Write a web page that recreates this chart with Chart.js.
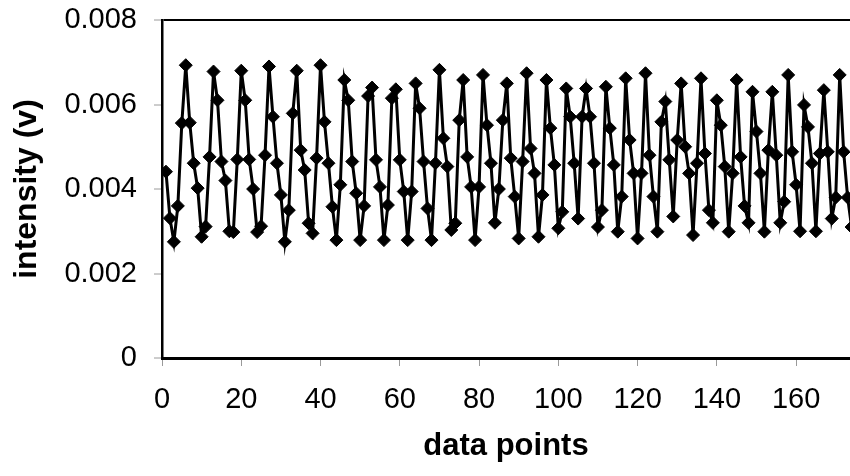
<!DOCTYPE html>
<html>
<head>
<meta charset="utf-8">
<script src="https://cdn.jsdelivr.net/npm/chart.js@4/dist/chart.umd.min.js"></script>
<style>
  html, body { margin: 0; padding: 0; background: #ffffff; }
  canvas { display: block; }
</style>
</head>
<body>
<canvas id="chart" width="850" height="476"></canvas>
<script>
// ---- data (x = data point number 1..174) ----
const intensity = [
  0.00441, 0.00331, 0.00275, 0.00360, 0.00556, 0.00693, 0.00557, 0.00461, 0.00402, 0.00287,
  0.00311, 0.00476, 0.00678, 0.00610, 0.00465, 0.00420, 0.00300, 0.00298, 0.00470, 0.00680,
  0.00610, 0.00470, 0.00400, 0.00298, 0.00312, 0.00480, 0.00690, 0.00571, 0.00461, 0.00386,
  0.00275, 0.00350, 0.00579, 0.00680, 0.00492, 0.00445, 0.00319, 0.00295, 0.00473, 0.00693,
  0.00559, 0.00461, 0.00358, 0.00279, 0.00410, 0.00658, 0.00610, 0.00465, 0.00390, 0.00279,
  0.00360, 0.00620, 0.00640, 0.00469, 0.00405, 0.00279, 0.00362, 0.00615, 0.00636, 0.00469,
  0.00394, 0.00279, 0.00394, 0.00650, 0.00591, 0.00465, 0.00354, 0.00279, 0.00461, 0.00682,
  0.00520, 0.00453, 0.00303, 0.00319, 0.00563, 0.00658, 0.00476, 0.00405, 0.00279, 0.00405,
  0.00670, 0.00551, 0.00461, 0.00320, 0.00400, 0.00563, 0.00650, 0.00473, 0.00382, 0.00283,
  0.00465, 0.00674, 0.00496, 0.00437, 0.00287, 0.00386, 0.00658, 0.00544, 0.00457, 0.00307,
  0.00346, 0.00638, 0.00571, 0.00461, 0.00330, 0.00571, 0.00638, 0.00571, 0.00461, 0.00310,
  0.00350, 0.00642, 0.00544, 0.00457, 0.00299, 0.00382, 0.00662, 0.00516, 0.00437, 0.00283,
  0.00437, 0.00674, 0.00480, 0.00382, 0.00299, 0.00559, 0.00607, 0.00469, 0.00335, 0.00516,
  0.00650, 0.00500, 0.00437, 0.00291, 0.00461, 0.00662, 0.00484, 0.00350, 0.00320, 0.00610,
  0.00551, 0.00453, 0.00299, 0.00437, 0.00658, 0.00476, 0.00360, 0.00320, 0.00630, 0.00536,
  0.00437, 0.00299, 0.00492, 0.00630, 0.00480, 0.00320, 0.00370, 0.00670, 0.00488, 0.00410,
  0.00300, 0.00599, 0.00547, 0.00461, 0.00300, 0.00484, 0.00634, 0.00488, 0.00330, 0.00380,
  0.00670, 0.00488, 0.00380, 0.00310
];
const firstPointNumber = 1;

const xTickValues = [0, 20, 40, 60, 80, 100, 120, 140, 160];
const yTickValues = [0, 0.002, 0.004, 0.006, 0.008];
const yTickLabels = ['0', '0.002', '0.004', '0.006', '0.008'];
const xAxisTitle = 'data points';
const yAxisTitle = 'intensity (v)';
const xMin = 0, xMax = 173.6;   // the reference is cut off at the right edge
const yMin = 0, yMax = 0.008;

// ---- build the chart ----
const points = intensity.map((v, i) => ({ x: firstPointNumber + i, y: v }));
const FONT = '"Liberation Sans", Arial, Helvetica, sans-serif';

new Chart(document.getElementById('chart'), {
  type: 'scatter',
  data: {
    datasets: [{
      data: points,
      showLine: true,
      borderColor: '#000000',
      borderWidth: 3,
      tension: 0,
      pointStyle: 'rectRot',
      pointRadius: 6.5,
      pointHoverRadius: 6.5,
      pointBackgroundColor: '#000000',
      pointBorderColor: '#000000',
      pointBorderWidth: 1
    }]
  },
  options: {
    responsive: false,
    devicePixelRatio: 1,
    animation: false,
    events: [],
    layout: { autoPadding: false, padding: { top: 20, right: 0, bottom: 0, left: 0 } },
    plugins: { legend: { display: false }, tooltip: { enabled: false } },
    scales: {
      x: {
        type: 'linear',
        min: xMin,
        max: xMax,
        afterFit: (s) => { s.height = 118; s.paddingLeft = 0; s.paddingRight = 0; },
        afterBuildTicks: (s) => { s.ticks = xTickValues.map(v => ({ value: v })); },
        ticks: {
          includeBounds: false,
          color: '#000000',
          font: { family: FONT, size: 29 },
          padding: 17,
          maxRotation: 0,
          autoSkip: false
        },
        grid: {
          drawOnChartArea: false,
          drawTicks: true,
          tickLength: 8,
          tickColor: '#9a9a9a',
          tickWidth: 1
        },
        border: { display: true, color: '#000000', width: 3 },
        title: {
          display: true,
          text: xAxisTitle,
          color: '#000000',
          font: { family: FONT, size: 31, weight: 'bold' },
          padding: { top: 0, bottom: 11 }
        }
      },
      y: {
        type: 'linear',
        min: yMin,
        max: yMax,
        afterFit: (s) => { s.width = 162; s.paddingTop = 0; s.paddingBottom = 0; },
        afterBuildTicks: (s) => { s.ticks = yTickValues.map(v => ({ value: v })); },
        ticks: {
          includeBounds: false,
          color: '#000000',
          font: { family: FONT, size: 29 },
          padding: 17,
          callback: (value) => {
            const k = yTickValues.findIndex(t => Math.abs(t - value) < 1e-9);
            return k >= 0 ? yTickLabels[k] : '';
          }
        },
        grid: {
          drawOnChartArea: true,
          drawTicks: true,
          tickLength: 8,
          tickColor: '#9a9a9a',
          tickWidth: 1,
          color: (ctx) => (ctx.tick && Math.abs(ctx.tick.value - yMax) < 1e-9) ? '#000000' : 'rgba(0,0,0,0)',
          lineWidth: 2
        },
        border: { display: true, color: '#000000', width: 2.5 },
        title: {
          display: true,
          text: yAxisTitle,
          color: '#000000',
          font: { family: FONT, size: 32, weight: 'bold' },
          padding: { top: 8, bottom: 0 }
        }
      }
    }
  }
});
</script>
</body>
</html>
